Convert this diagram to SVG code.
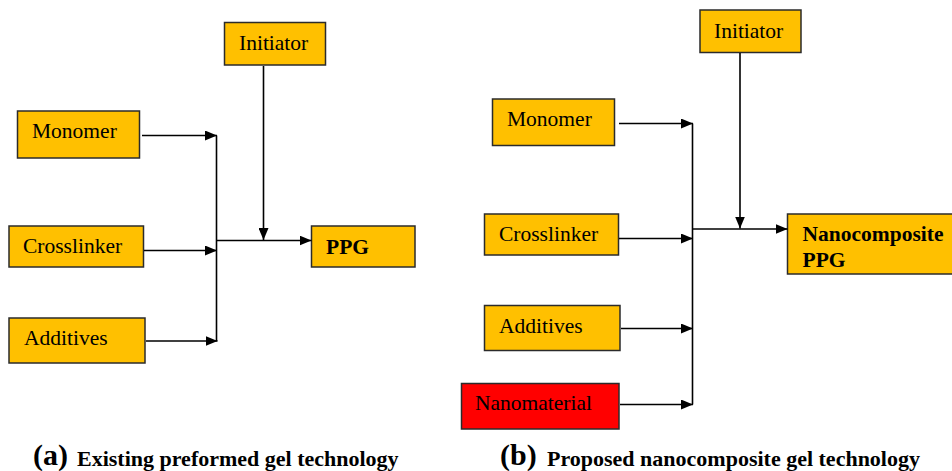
<svg xmlns="http://www.w3.org/2000/svg" width="952" height="471" viewBox="0 0 952 471">
  <style>
    .box { fill: #FFC000; stroke: #2b2b2b; stroke-width: 1.5; }
    .red { fill: #FF0000; stroke: #2b2b2b; stroke-width: 1.5; }
    .lbl { font-family: "Liberation Serif", "Times New Roman", serif; font-size: 21.5px; fill: #000; }
    .bold { font-weight: bold; }
    .cap { font-family: "Liberation Serif", "Times New Roman", serif; font-weight: bold; fill: #000; }
    .wire { fill: none; stroke: #000; stroke-width: 1.6; }
  </style>
  <defs>
    <marker id="arrow" viewBox="0 0 12 10" refX="12" refY="5" markerWidth="12" markerHeight="10" markerUnits="userSpaceOnUse" orient="auto">
      <path d="M0,0 L12,5 L0,10 z" fill="#000"/>
    </marker>
  </defs>
  <rect width="952" height="471" fill="#fff"/>

  <!-- (a) existing preformed gel -->
  <g id="a-initiator">
    <rect class="box" x="224.5" y="22.5" width="101" height="42.5"/>
    <text class="lbl" x="239" y="50">Initiator</text>
  </g>
  <g id="a-monomer">
    <rect class="box" x="17.5" y="111" width="122" height="47"/>
    <text class="lbl" x="32" y="138">Monomer</text>
  </g>
  <g id="a-crosslinker">
    <rect class="box" x="9" y="226" width="134.5" height="41"/>
    <text class="lbl" x="23" y="253">Crosslinker</text>
  </g>
  <g id="a-additives">
    <rect class="box" x="9" y="318" width="136" height="45"/>
    <text class="lbl" x="24" y="345">Additives</text>
  </g>
  <g id="a-ppg">
    <rect class="box" x="311.5" y="226" width="103.5" height="41"/>
    <text class="lbl bold" x="326" y="254">PPG</text>
  </g>

  <!-- (b) proposed nanocomposite gel -->
  <g id="b-initiator">
    <rect class="box" x="700" y="10" width="101" height="42.5"/>
    <text class="lbl" x="714" y="37.5">Initiator</text>
  </g>
  <g id="b-monomer">
    <rect class="box" x="492.5" y="99" width="122" height="46.5"/>
    <text class="lbl" x="507" y="126">Monomer</text>
  </g>
  <g id="b-crosslinker">
    <rect class="box" x="484.5" y="214" width="134" height="41"/>
    <text class="lbl" x="499" y="241">Crosslinker</text>
  </g>
  <g id="b-additives">
    <rect class="box" x="484.5" y="305.5" width="135.5" height="45"/>
    <text class="lbl" x="499" y="332.5">Additives</text>
  </g>
  <g id="b-nanomaterial">
    <rect class="red" x="461.5" y="383.5" width="157.5" height="45.5"/>
    <text class="lbl" x="475" y="410">Nanomaterial</text>
  </g>
  <g id="b-nanoppg">
    <rect class="box" x="787.5" y="214" width="170" height="60"/>
    <text class="lbl bold" x="802.5" y="240.5">Nanocomposite</text>
    <text class="lbl bold" x="802.5" y="266.5">PPG</text>
  </g>

  <g id="connectors">
    <!-- (a) -->
    <path class="wire" d="M142,135.5 H217" marker-end="url(#arrow)"/>
    <path class="wire" d="M144,250.5 H217" marker-end="url(#arrow)"/>
    <path class="wire" d="M146,341 H217.5" marker-end="url(#arrow)"/>
    <path class="wire" d="M216.5,135.5 V341"/>
    <path class="wire" d="M216.5,240.5 H311.5" marker-end="url(#arrow)"/>
    <path class="wire" d="M263.5,66 V240" marker-end="url(#arrow)"/>
    <!-- (b) -->
    <path class="wire" d="M619,123.5 H693" marker-end="url(#arrow)"/>
    <path class="wire" d="M619,238.5 H693" marker-end="url(#arrow)"/>
    <path class="wire" d="M621,328.5 H693" marker-end="url(#arrow)"/>
    <path class="wire" d="M620,404.5 H693" marker-end="url(#arrow)"/>
    <path class="wire" d="M692.5,123.5 V404.5"/>
    <path class="wire" d="M692.5,229 H787.5" marker-end="url(#arrow)"/>
    <path class="wire" d="M740,53 V228.5" marker-end="url(#arrow)"/>
  </g>

  <g id="captions">
    <text class="cap" x="33" y="465" font-size="30">(a)</text>
    <text class="cap" x="77" y="466" font-size="22">Existing preformed gel technology</text>
    <text class="cap" x="500" y="465" font-size="30">(b)</text>
    <text class="cap" x="547" y="466" font-size="22">Proposed nanocomposite gel technology</text>
  </g>
</svg>
